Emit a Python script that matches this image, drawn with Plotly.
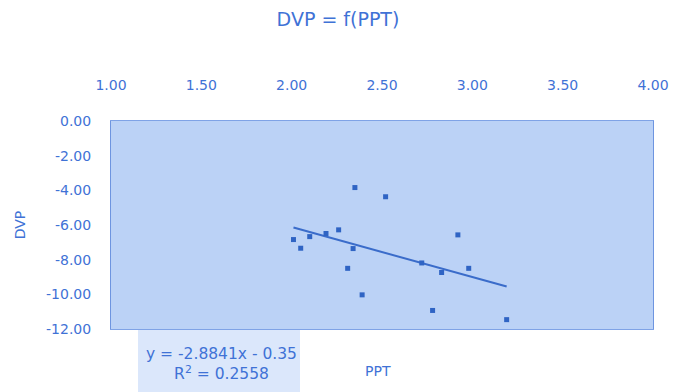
import plotly.graph_objects as go

# Data
ppt = [2.01, 2.05, 2.10, 2.19, 2.26, 2.35, 2.34, 2.31, 2.39, 2.52, 2.72, 2.83, 2.78, 2.92, 2.98, 3.19]
dvp = [-6.84, -7.34, -6.67, -6.49, -6.28, -3.84, -7.36, -8.50, -10.03, -4.37, -8.19, -8.74, -10.93, -6.57, -8.50, -11.46]
slope = -2.8841
intercept = -0.35
r2 = 0.2558
x_ticks = [1.0, 1.5, 2.0, 2.5, 3.0, 3.5, 4.0]
y_ticks = [0, -2, -4, -6, -8, -10, -12]

TXT = "#3f72d6"
MARK = "#2f64c4"
FONT = "DejaVu Sans, Lato"

# page body margin offsets the figure by ~8px
OFF = 8
W, H = 688 - OFF, 392 - OFF
PL, PR, PT, PB = 111, 653, 121, 329  # plot area in screen px
ml, mr, mt, mb = PL - OFF, W - (PR - OFF), PT - OFF, H - (PB - OFF)
pw, ph = PR - PL, PB - PT

def px(xs):
    return (xs - PL) / pw

def py(ys):
    return (PB - ys) / ph

xmin, xmax = min(ppt), max(ppt)
trend_x = [xmin, xmax]
trend_y = [slope * v + intercept for v in trend_x]

fig = go.Figure()
fig.add_trace(go.Scatter(x=trend_x, y=trend_y, mode="lines",
                         line=dict(color="#3a6cca", width=2), hoverinfo="skip"))
fig.add_trace(go.Scatter(x=ppt, y=dvp, mode="markers",
                         marker=dict(symbol="square", size=5, color=MARK)))

fig.update_layout(
    width=W, height=H,
    margin=dict(l=ml, r=mr, t=mt, b=mb, pad=0),
    paper_bgcolor="white",
    plot_bgcolor="#bbd2f6",
    showlegend=False,
    font=dict(family=FONT, color=TXT, size=14),
    title=dict(text="DVP = f(PPT)", x=(338 - OFF) / W, xanchor="center",
               y=1 - (19 - OFF) / H, yanchor="middle",
               font=dict(size=19, color=TXT, family=FONT)),
    xaxis=dict(range=[1, 4], side="top", tickvals=x_ticks,
               ticktext=[f"{v:.2f}" for v in x_ticks],
               showgrid=False, zeroline=False, showline=True,
               linecolor="#7fa3e6", linewidth=1, mirror=True, automargin=False,
               ticks="", ticklabelstandoff=24, tickfont=dict(size=14, color=TXT)),
    yaxis=dict(range=[-12, 0], tickvals=y_ticks,
               ticktext=[f"{v:.2f}" for v in y_ticks],
               showgrid=False, zeroline=False, showline=True,
               linecolor="#6e95e0", linewidth=1, mirror=True, automargin=False,
               ticks="", ticklabelstandoff=16, tickfont=dict(size=14, color=TXT),
               title=dict(text="DVP", standoff=17, font=dict(size=14, color=TXT))),
)

fig.add_annotation(text="PPT", xref="paper", yref="paper", x=px(378), xanchor="center",
                   y=py(371), yanchor="middle", showarrow=False,
                   font=dict(size=14, color=TXT, family=FONT))

fig.add_shape(type="rect", xref="paper", yref="paper",
              x0=px(138), x1=px(300), y0=py(400), y1=py(330),
              fillcolor="#dbe7fb", line=dict(width=0), layer="below")
fig.add_annotation(text=f"y = {slope:.4f}x - {abs(intercept):.2f}<br>R<sup>2</sup> = {r2:.4f}",
                   xref="paper", yref="paper", x=px(221), xanchor="center",
                   y=py(364), yanchor="middle", showarrow=False, align="center",
                   font=dict(size=15.5, color=TXT, family=FONT))

fig.write_html("out.html")
